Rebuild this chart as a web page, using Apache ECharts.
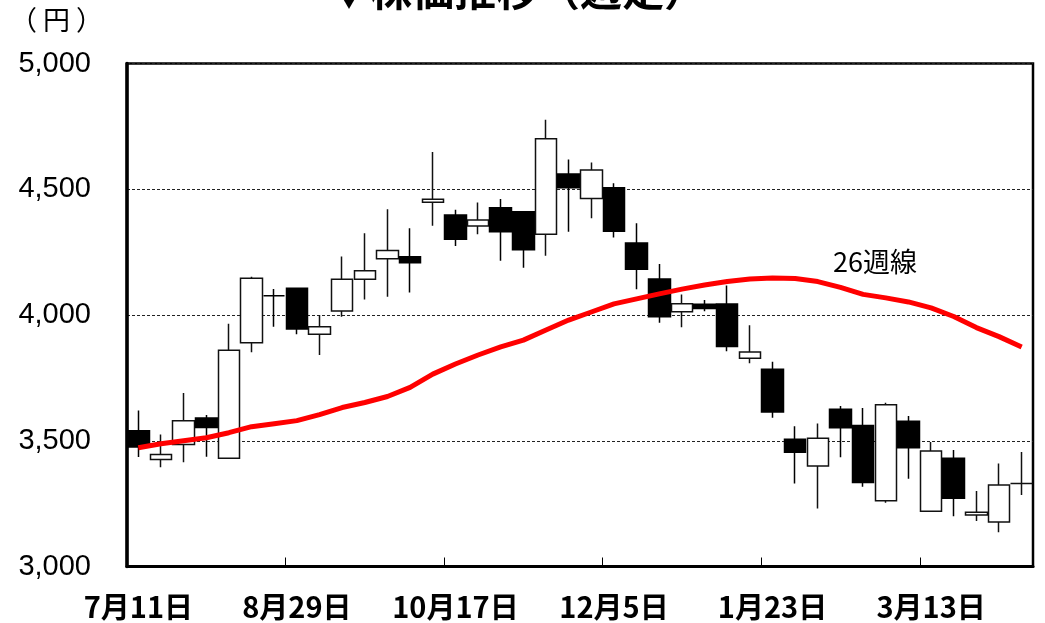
<!DOCTYPE html>
<html>
<head>
<meta charset="utf-8">
<script src="https://cdn.jsdelivr.net/npm/echarts@6/dist/echarts.min.js"></script>
<style>
  html, body { margin: 0; padding: 0; background: #fff; }
  #chart { width: 1045px; height: 623px; }
</style>
</head>
<body>
<div id="chart"></div>
<script>
// 週足の日付（月曜日）
var weeks = [
    '7月11日', '7月18日', '7月25日', '8月1日', '8月8日', '8月15日', '8月22日',
    '8月29日', '9月5日', '9月12日', '9月19日', '9月26日', '10月3日', '10月10日',
    '10月17日', '10月24日', '10月31日', '11月7日', '11月14日', '11月21日', '11月28日',
    '12月5日', '12月12日', '12月19日', '12月26日', '1月2日', '1月9日', '1月16日',
    '1月23日', '1月30日', '2月6日', '2月13日', '2月20日', '2月27日', '3月6日',
    '3月13日', '3月20日', '3月27日', '4月3日', '4月10日'
];

// 始値・終値・安値・高値
var opens = [3540, 3425, 3485, 3590, 3430, 3890, 4077, 4106, 3923, 4016,
    4142, 4224, 4232, 4448, 4398, 4354, 4426, 4411, 4321, 4561,
    4463, 4506, 4286, 4143, 4013, 4043, 4044, 3828, 3784, 3506,
    3400, 3625, 3561, 3261, 3578, 3220, 3430, 3205, 3177, 3330];
var closes = [3475, 3445, 3580, 3553, 3860, 4146, 4077, 3944, 3953, 4142,
    4176, 4256, 4208, 4460, 4301, 4378, 4331, 4259, 4701, 4506,
    4577, 4333, 4182, 3993, 4045, 4026, 3875, 3853, 3614, 3454,
    3510, 3552, 3334, 3643, 3472, 3459, 3271, 3216, 3324, 3330];
var lows = [3435, 3395, 3415, 3436, 3430, 3852, 3953, 3923, 3841, 3993,
    4062, 4073, 4089, 4355, 4274, 4321, 4216, 4188, 4236, 4331,
    4385, 4308, 4102, 3969, 3951, 4015, 3856, 3808, 3591, 3330,
    3231, 3434, 3317, 3253, 3349, 3220, 3200, 3181, 3136, 3284];
var highs = [3620, 3525, 3690, 3602, 3965, 4152, 4103, 4106, 4000, 4233,
    4325, 4420, 4345, 4648, 4418, 4447, 4461, 4411, 4776, 4618,
    4606, 4524, 4365, 4203, 4082, 4060, 4117, 3959, 3814, 3558,
    3569, 3638, 3630, 3651, 3598, 3495, 3463, 3300, 3410, 3455];

// 26週移動平均
var ma26 = [3472, 3488, 3500, 3512, 3532, 3556, 3568, 3580, 3604, 3632,
    3652, 3676, 3712, 3765, 3805, 3841, 3873, 3900, 3940, 3980,
    4012, 4044, 4064, 4084, 4103, 4119, 4133, 4143, 4147, 4145,
    4133, 4110, 4082, 4068, 4052, 4028, 3994, 3950, 3914, 3873];

var yTicks = [3000, 3500, 4000, 4500, 5000];

var kdata = [];
for (var i = 0; i < weeks.length; i++) {
    kdata.push([opens[i], closes[i], lows[i], highs[i]]);
}

var myChart = echarts.init(document.getElementById('chart'));

var options = {
    animation: false,
    backgroundColor: '#fff',
    grid: {
        left: 127,
        right: 12,
        top: 63.5,
        bottom: 56.5,
        show: true,
        borderColor: '#000',
        borderWidth: 2.5,
        backgroundColor: 'transparent'
    },
    graphic: [{
        type: 'text',
        left: 10,
        top: 6,
        style: {
            text: '（ 円 ）',
            font: '27px "Noto Sans CJK JP"',
            fill: '#000'
        }
    }, {
        type: 'text',
        x: 517,
        y: 11,
        style: {
            text: '▼株価推移（週足）',
            font: 'bold 42px "Noto Sans CJK JP"',
            fill: '#000',
            align: 'center',
            verticalAlign: 'bottom'
        }
    }, {
        type: 'text',
        x: 875,
        y: 262,
        style: {
            text: '26週線',
            font: '27px "Noto Sans CJK JP"',
            fill: '#000',
            align: 'center',
            verticalAlign: 'middle'
        }
    }],
    xAxis: {
        type: 'category',
        data: weeks,
        boundaryGap: true,
        axisLine: { show: true, lineStyle: { color: '#000', width: 3 } },
        axisTick: {
            show: true,
            inside: true,
            interval: 6,
            length: 9,
            lineStyle: { color: '#000', width: 1 }
        },
        axisLabel: {
            interval: 6,
            margin: 26,
            color: '#000',
            fontSize: 29,
            fontWeight: 'bold',
            fontFamily: '"Noto Sans CJK JP"'
        },
        splitLine: { show: false }
    },
    yAxis: {
        type: 'value',
        min: yTicks[0],
        max: yTicks[yTicks.length - 1],
        interval: 500,
        axisLine: { show: true, lineStyle: { color: '#000', width: 3.5 } },
        axisTick: { show: false },
        axisLabel: {
            margin: 36,
            color: '#000',
            fontSize: 29,
            fontFamily: '"Liberation Sans Narrow", "Liberation Sans", sans-serif',
            formatter: function(v) {
                return v.toLocaleString('en-US');
            }
        },
        splitLine: {
            show: true,
            lineStyle: { color: '#222', width: 1, type: [3, 2] }
        }
    },
    series: [{
        name: '株価',
        type: 'candlestick',
        data: kdata,
        barWidth: 22,
        itemStyle: {
            color: '#fff',
            color0: '#000',
            borderColor: '#111',
            borderColor0: '#000',
            borderWidth: 1.5
        },
        z: 2
    }, {
        name: '26週線',
        type: 'line',
        data: ma26,
        symbol: 'none',
        smooth: false,
        lineStyle: { color: '#ff0000', width: 5 },
        z: 3
    }]
};
myChart.setOption(options);
</script>
</body>
</html>
